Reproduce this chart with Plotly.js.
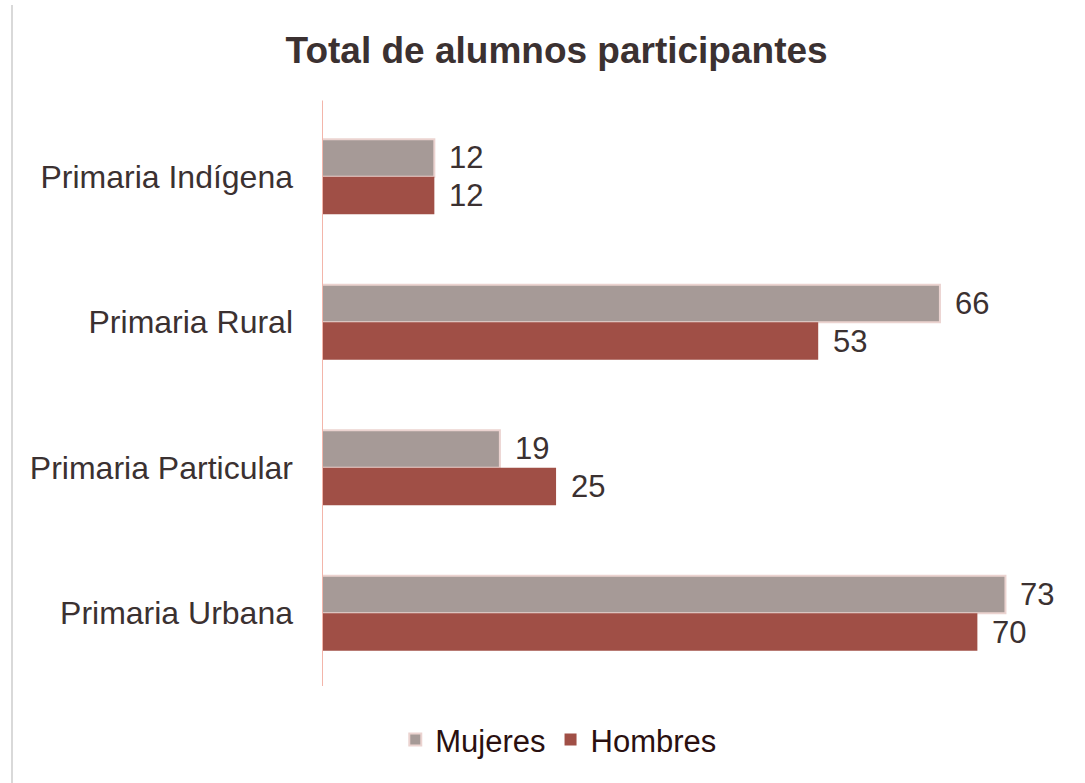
<!DOCTYPE html>
<html>
<head>
<meta charset="utf-8">
<script src="https://cdn.plot.ly/plotly-3.0.1.min.js"></script>
<style>html,body{margin:0;padding:0;background:#fff;}#chart{width:1085px;height:783px;}</style>
</head>
<body>
<div id="chart"></div>
<script>
const categories = ["Primaria Indígena", "Primaria Rural", "Primaria Particular", "Primaria Urbana"];
const mujeres = [12, 66, 19, 73];
const hombres = [12, 53, 25, 70];
const seriesNames = ["Mujeres", "Hombres"];

const font = "Liberation Sans, Arial, sans-serif";
const textColor = "#3b3131";

const traces = [
  {type: "bar", orientation: "h", name: seriesNames[0], y: categories, x: mujeres,
   marker: {color: "#A69A97", line: {color: "#EBD3D0", width: 2}}, hoverinfo: "x"},
  {type: "bar", orientation: "h", name: seriesNames[1], y: categories, x: hombres,
   marker: {color: "#A04F46", line: {width: 0}}, hoverinfo: "x"}
];

const annotations = [];
[mujeres, hombres].forEach((arr, si) => {
  arr.forEach((v, i) => {
    annotations.push({
      x: v, y: categories[i], xref: "x", yref: "y",
      text: String(v), showarrow: false, xanchor: "left",
      xshift: 13, yshift: si === 0 ? 19 : -19,
      font: {family: font, size: 31, color: textColor}
    });
  });
});

const layout = {
  width: 1085, height: 783,
  margin: {l: 322, r: 14, t: 104, b: 97},
  paper_bgcolor: "#ffffff", plot_bgcolor: "#ffffff",
  title: {text: "<b>Total de alumnos participantes</b>", x: 0.513, xref: "container", xanchor: "center",
          y: 0.936, yref: "container", yanchor: "middle",
          font: {family: font, size: 37, color: textColor}},
  barmode: "group", bargap: 0.485, bargroupgap: 0,
  xaxis: {range: [0, 80], showgrid: false, zeroline: false, showticklabels: false, ticks: "",
          showline: false, fixedrange: true},
  yaxis: {type: "category", autorange: "reversed", showgrid: false, zeroline: false,
          showline: false, ticks: "", ticklabelstandoff: 28,
          tickfont: {family: font, size: 32, color: textColor}},
  showlegend: true,
  legend: {orientation: "h", x: 0.515, xanchor: "center", xref: "container", y: 0.055, yref: "container", yanchor: "middle",
           font: {family: font, size: 31, color: "#2a1010"}, itemwidth: 30, traceorder: "normal"},
  annotations: annotations,
  shapes: [
    {type: "line", xref: "x", yref: "paper", x0: 0, x1: 0, y0: 0, y1: 1.006,
     line: {color: "#F3B5AA", width: 2}},
    {type: "line", xref: "paper", yref: "paper", x0: (12-322)/749, x1: (12-322)/749, y0: -0.17, y1: 1.17,
     line: {color: "#D9D9D9", width: 2}}
  ]
};

Plotly.newPlot("chart", traces, layout, {displayModeBar: false, staticPlot: true});
</script>
</body>
</html>
